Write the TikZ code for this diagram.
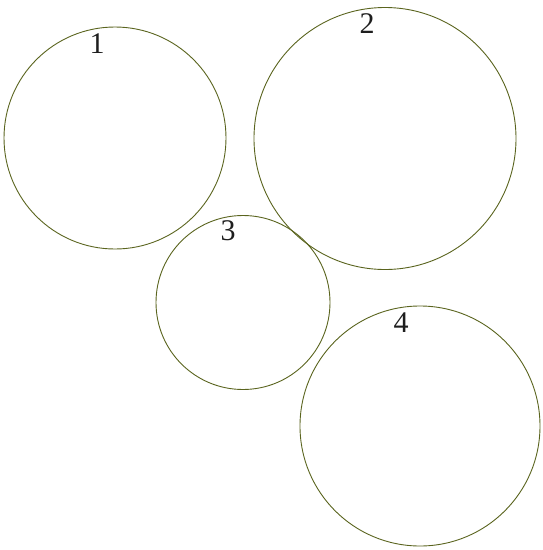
\documentclass[tikz,border=0pt]{standalone}
\usepackage{fontspec}
\setmainfont{Liberation Serif}
\definecolor{ring}{RGB}{90,100,30}
\definecolor{lab}{RGB}{30,30,30}
\tikzset{ring/.style={draw=ring,line width=0.9pt},
  lab/.style={inner sep=0pt,anchor=base,text=lab,font=\fontsize{30}{36}\selectfont}}
\begin{document}
\begin{tikzpicture}[x=1pt,y=-1pt]
\useasboundingbox (0,0) rectangle (542,550);
\node[ring,circle,minimum size=222pt,inner sep=0pt] (c1) at (115,138) {};
\node[ring,circle,minimum size=262pt,inner sep=0pt] (c2) at (385,138.5) {};
\node[ring,circle,minimum size=174pt,inner sep=0pt] (c3) at (243,302.5) {};
\node[ring,circle,minimum size=240pt,inner sep=0pt] (c4) at (420,426) {};
\node[lab] (l1) at (97,53) {1};
\node[lab] (l2) at (367,33) {2};
\node[lab] (l3) at (228,240) {3};
\node[lab] (l4) at (401,332) {4};
\end{tikzpicture}
\end{document}
